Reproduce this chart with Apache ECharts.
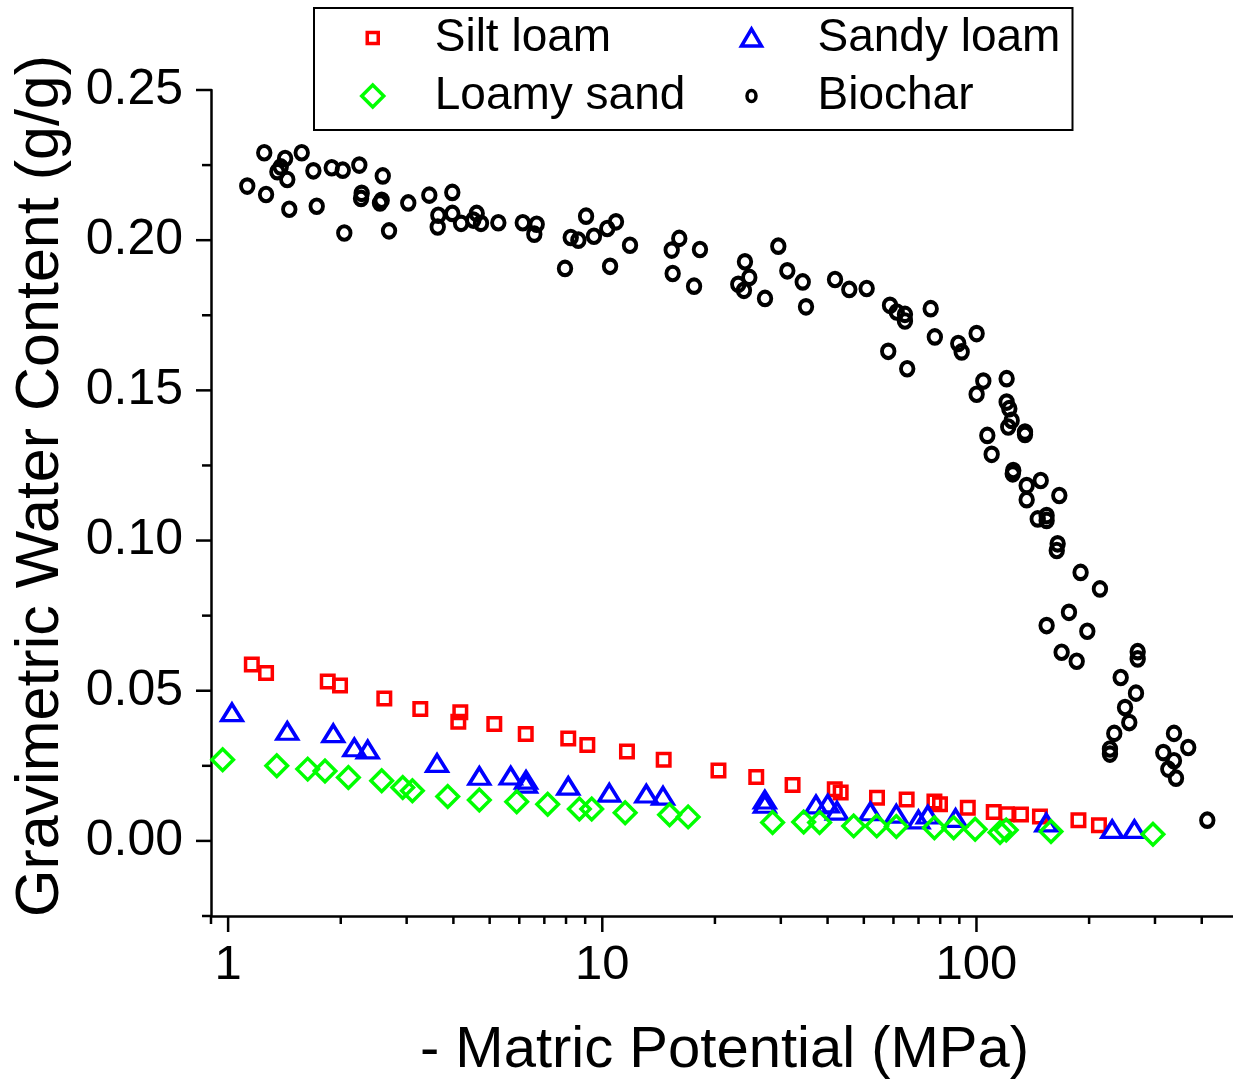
<!DOCTYPE html>
<html><head><meta charset="utf-8">
<script src="https://cdn.jsdelivr.net/npm/echarts@6/dist/echarts.min.js"></script>
<style>html,body{margin:0;padding:0;background:#fff}#c{width:1233px;height:1081px}</style>
</head><body><div id="c"></div>
<script>
// ---- data (x = - matric potential in MPa, y = gravimetric water content g/g) ----
const siltLoam = [[1.157,0.0587],[1.263,0.0559],[1.846,0.0531],[1.991,0.0517],[2.615,0.0474],[3.263,0.0439],[4.174,0.0428],[4.123,0.0397],[5.145,0.0389],[6.243,0.0356],[8.11,0.0341],[9.12,0.0319],[11.64,0.0298],[14.59,0.0270],[20.44,0.0234],[25.79,0.0213],[32.25,0.0186],[41.81,0.0172],[43.36,0.0161],[54.22,0.0144],[65.08,0.0138],[77.2,0.0131],[79.9,0.0122],[94.8,0.0110],[111.2,0.0096],[120.6,0.0089],[131.5,0.0088],[147.8,0.0081],[187.3,0.0069],[212.5,0.0052]];
const sandyLoam = [[1.024,0.0428],[1.439,0.0366],[1.910,0.0358],[2.174,0.0311],[2.361,0.0304],[3.617,0.0259],[4.692,0.0216],[5.691,0.0217],[6.254,0.0203],[6.254,0.0190],[8.11,0.0183],[10.44,0.0160],[13.11,0.0157],[14.53,0.0150],[27.19,0.0137],[27.19,0.0123],[37.25,0.0121],[40.05,0.0124],[42.39,0.0100],[52.05,0.0098],[61.06,0.0090],[69.98,0.0071],[74.12,0.0087],[87.95,0.0076],[153.7,0.0061],[230.5,0.0039],[264.3,0.0039]];
const loamySand = [[0.967,0.0270],[1.349,0.0250],[1.632,0.0239],[1.815,0.0233],[2.096,0.0211],[2.573,0.0200],[2.929,0.0178],[3.108,0.0167],[3.863,0.0148],[4.692,0.0136],[5.906,0.0130],[7.146,0.0122],[8.683,0.0106],[9.37,0.0106],[11.51,0.0094],[15.13,0.0087],[16.96,0.0080],[28.52,0.0061],[34.53,0.0063],[38.08,0.0061],[46.97,0.0050],[54.13,0.0050],[61.06,0.0048],[77.2,0.0044],[86.9,0.0044],[99.2,0.0039],[115.6,0.0028],[120.1,0.0036],[158.2,0.0031],[296.3,0.0022]];
const biochar = [[1.249,0.2291],[1.420,0.2272],[1.573,0.2291],[1.382,0.2244],[1.354,0.2228],[1.439,0.2202],[1.125,0.2180],[1.263,0.2152],[1.457,0.2103],[1.690,0.2231],[1.892,0.2241],[2.025,0.2233],[2.242,0.2250],[2.590,0.2214],[1.725,0.2113],[2.044,0.2024],[2.275,0.2156],[2.266,0.2139],[2.573,0.2133],[2.546,0.2124],[2.692,0.2031],[3.030,0.2124],[3.449,0.2150],[3.973,0.2159],[3.646,0.2083],[3.632,0.2044],[3.973,0.2089],[4.193,0.2056],[4.617,0.2089],[4.741,0.2056],[4.522,0.2067],[5.274,0.2058],[6.130,0.2058],[6.679,0.2053],[6.581,0.2020],[9.05,0.2080],[8.235,0.2009],[8.63,0.2000],[9.50,0.2013],[10.31,0.2039],[10.88,0.2061],[11.86,0.1983],[7.95,0.1906],[10.49,0.1913],[16.06,0.2006],[15.33,0.1967],[18.24,0.1969],[15.42,0.1889],[17.59,0.1847],[24.06,0.1928],[24.71,0.1876],[23.09,0.1853],[23.91,0.1833],[27.22,0.1806],[29.54,0.1980],[31.22,0.1898],[34.33,0.1861],[35.03,0.1778],[41.88,0.1869],[45.72,0.1836],[50.88,0.1839],[58.74,0.1783],[61.22,0.1761],[64.4,0.1731],[64.4,0.1753],[75.45,0.1772],[58.1,0.1630],[65.3,0.1572],[77.4,0.1678],[89.4,0.1656],[91.3,0.1628],[100.1,0.1689],[104.3,0.1531],[100.1,0.1487],[120.4,0.1539],[120.4,0.1461],[122.4,0.1439],[124.2,0.1400],[121.6,0.1378],[134.8,0.1361],[134.8,0.1353],[106.9,0.1350],[109.8,0.1287],[125.4,0.1233],[125.0,0.1222],[136.2,0.1183],[148.5,0.1200],[136.2,0.1136],[166.5,0.1150],[145.8,0.1072],[154.0,0.1083],[154.0,0.1067],[164.8,0.0989],[163.9,0.0967],[189.8,0.0894],[213.8,0.0839],[176.7,0.0761],[154.0,0.0717],[197.8,0.0698],[168.9,0.0628],[185.3,0.0598],[269.7,0.0630],[269.7,0.0606],[242.9,0.0544],[266.9,0.0492],[249.5,0.0444],[256.1,0.0394],[233.5,0.0358],[227.4,0.0306],[227.4,0.0289],[337.2,0.0358],[368.1,0.0311],[315.7,0.0294],[337.2,0.0267],[325.6,0.0239],[341.4,0.0209],[413.9,0.0069]];

// ---- axes / ticks ----
const xMin = 0.9, xMax = 500;
const yMin = -0.025, yMax = 0.25;
const xMajorTicks = [1, 10, 100];
const xMinorTicks = [0.9, 2, 3, 4, 5, 6, 7, 8, 9, 20, 30, 40, 50, 60, 70, 80, 90, 200, 300, 400];
const yMajorTicks = [0, 0.05, 0.10, 0.15, 0.20, 0.25];
const yMinorTicks = [-0.025, 0.025, 0.075, 0.125, 0.175, 0.225];
const xTickLabels = ['1', '10', '100'];
const seriesNames = ['Silt loam', 'Sandy loam', 'Loamy sand', 'Biochar'];
const xTitle = '- Matric Potential (MPa)';
const yTitle = 'Gravimetric Water Content (g/g)';

const FONT = "'Liberation Sans', Arial, Helvetica, sans-serif";

// tick data for custom series: [x, y, kind]
const tickData = [];
xMajorTicks.forEach(v => tickData.push([v, yMin, 0]));
xMinorTicks.forEach(v => tickData.push([v, yMin, 1]));
yMajorTicks.forEach(v => tickData.push([xMin, v, 2]));
yMinorTicks.forEach(v => tickData.push([xMin, v, 3]));

const ICON_SQUARE = 'path://M0 0M22 22M5.5 5.5L16.5 5.5L16.5 16.5L5.5 16.5Z';
const ICON_TRI = 'path://M0 0M22 22M1 19L11 2L21 19Z';
const ICON_CIRCLE = 'path://M0 0M22 22M11 5.5A4.5 5.5 0 1 1 11 16.5A4.5 5.5 0 1 1 11 5.5Z';

const chart = echarts.init(document.getElementById('c'), null, {renderer: 'canvas'});
const hollow = (c, w) => ({color: 'rgba(0,0,0,0)', borderColor: c, borderWidth: w, opacity: 1});
const legendIconStyle = (c) => ({color: 'rgba(0,0,0,0)', borderColor: c, borderWidth: 3.5, opacity: 1});

chart.setOption({
  animation: false,
  backgroundColor: '#fff',
  grid: {left: 211, top: 90, right: -5, bottom: 165, containLabel: false, outerBoundsMode: 'none'},
  legend: {
    left: 314, top: 8, width: 710, orient: 'horizontal',
    padding: [5, 10, 9, 46], itemGap: 8,
    itemWidth: 22, itemHeight: 22,
    borderColor: '#000', borderWidth: 2, backgroundColor: '#fff',
    selectedMode: false,
    itemStyle: {borderWidth: 3.5, opacity: 1},
    textStyle: {fontSize: 46, fontFamily: FONT, color: '#000', lineHeight: 50},
    data: [
      {name: seriesNames[0], icon: ICON_SQUARE, itemStyle: legendIconStyle('#ff0000'), textStyle: {width: 296, padding: [0, 0, 0, 46]}},
      {name: seriesNames[1], icon: ICON_TRI, itemStyle: legendIconStyle('#0000ff'), textStyle: {width: 245, padding: [0, 0, 0, 50]}},
      {name: seriesNames[2], icon: 'diamond', itemStyle: legendIconStyle('#00ff00'), textStyle: {width: 296, padding: [0, 0, 0, 46]}},
      {name: seriesNames[3], icon: ICON_CIRCLE, itemStyle: legendIconStyle('#000000'), textStyle: {width: 245, padding: [0, 0, 0, 50]}}
    ]
  },
  xAxis: {
    type: 'log', logBase: 10, min: xMin, max: xMax,
    name: xTitle, nameLocation: 'middle', nameGap: 106,
    nameTextStyle: {fontSize: 58, fontFamily: FONT, color: '#000'},
    axisLine: {show: true, onZero: false, lineStyle: {color: '#000', width: 2.5}},
    axisTick: {show: false},
    splitLine: {show: false},
    minorTick: {show: false},
    axisLabel: {
      fontSize: 49, fontFamily: FONT, color: '#000', margin: 25,
      showMinLabel: true, showMaxLabel: true,
      formatter: function (v) {
        const l = Math.log10(v);
        if (Math.abs(l - Math.round(l)) < 1e-6) {
          const i = xMajorTicks.indexOf(Math.round(v));
          return i >= 0 ? xTickLabels[i] : '';
        }
        return '';
      }
    }
  },
  yAxis: {
    type: 'value', min: yMin, max: yMax, interval: 0.025,
    name: yTitle, nameLocation: 'middle', nameGap: 139, nameRotate: 90,
    nameTextStyle: {fontSize: 61, fontFamily: FONT, color: '#000', padding: [0, 0, 0, 34]},
    axisLine: {show: true, onZero: false, lineStyle: {color: '#000', width: 2.5}},
    axisTick: {show: false},
    splitLine: {show: false},
    axisLabel: {
      fontSize: 50, fontFamily: FONT, color: '#000', margin: 28,
      formatter: function (v) {
        const k = v / 0.05;
        if (v >= -1e-9 && Math.abs(k - Math.round(k)) < 1e-6) return Math.abs(v).toFixed(2);
        return '';
      }
    }
  },
  series: [
    {name: seriesNames[0], type: 'scatter', data: siltLoam, symbol: 'rect', symbolSize: 12.5,
     itemStyle: hollow('#ff0000', 3.5), emphasis: {disabled: true}},
    {name: seriesNames[1], type: 'scatter', data: sandyLoam, symbol: 'triangle', symbolSize: [20.5, 16.5],
     itemStyle: hollow('#0000ff', 3.5), emphasis: {disabled: true}},
    {name: seriesNames[2], type: 'scatter', data: loamySand, symbol: 'diamond', symbolSize: 21.5,
     itemStyle: hollow('#00ff00', 3.5), emphasis: {disabled: true}},
    {name: seriesNames[3], type: 'scatter', data: biochar, symbol: 'circle', symbolSize: [12.5, 13.5],
     itemStyle: hollow('#000000', 4), emphasis: {disabled: true}},
    {
      name: 'ticks', type: 'custom', data: tickData, silent: true, clip: false,
      encode: {x: 0, y: 1},
      renderItem: function (params, api) {
        const p = api.coord([api.value(0), api.value(1)]);
        const kind = api.value(2);
        let s;
        if (kind === 0) s = {x1: p[0], y1: p[1], x2: p[0], y2: p[1] + 16};
        else if (kind === 1) s = {x1: p[0], y1: p[1], x2: p[0], y2: p[1] + 8};
        else if (kind === 2) s = {x1: p[0] - 15, y1: p[1], x2: p[0], y2: p[1]};
        else s = {x1: p[0] - 9, y1: p[1], x2: p[0], y2: p[1]};
        return {type: 'line', shape: s, style: {stroke: '#000', lineWidth: 2.5}};
      }
    }
  ]
});
</script>
</body></html>
